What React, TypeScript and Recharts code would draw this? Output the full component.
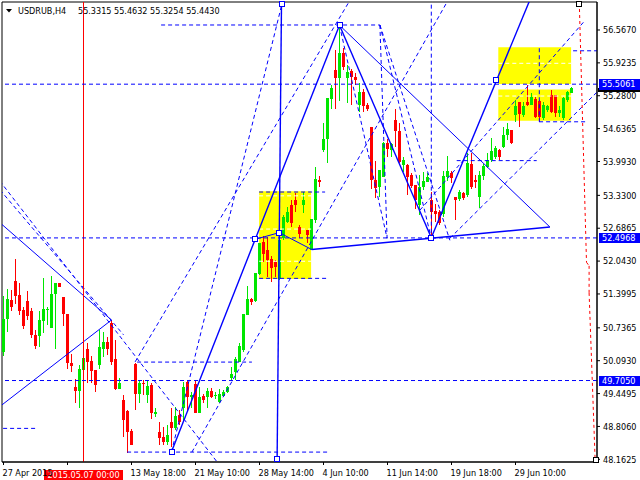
import React from 'react';
import { ComposedChart, Bar, XAxis, YAxis, ReferenceLine, ReferenceArea, ReferenceDot } from 'recharts';

const FONT = '"DejaVu Sans Condensed", "Liberation Sans", Arial, sans-serif';
const GREEN = '#00e600';
const RED = '#ff0000';
const BLUE = '#0000ff';

// ---- candle data (bar index 0..142) ----
const opens = [50.27,50.90,51.29,51.65,51.38,51.08,51.26,51.06,50.59,50.58,
50.87,51.10,50.74,51.39,51.61,51.34,51.00,50.04,49.58,49.50,
49.92,50.32,50.08,49.91,50.01,50.33,50.46,50.84,50.12,49.54,
49.33,49.11,48.72,50.03,49.45,49.66,49.42,49.61,49.05,48.70,
48.60,48.50,48.90,48.78,49.03,49.16,49.68,49.39,49.63,49.06,
49.40,49.39,49.50,49.41,49.29,49.40,49.48,49.76,49.88,50.07,
50.30,50.99,51.30,51.26,51.79,52.42,52.26,52.09,52.03,51.70,
52.49,52.81,53.14,53.24,52.71,53.14,52.66,52.26,52.85,53.63,
54.22,54.44,55.21,55.78,55.63,56.11,55.62,55.76,55.65,55.10,
55.36,55.10,54.67,53.63,53.50,53.69,54.35,54.22,54.80,54.58,
53.93,53.92,53.73,53.53,53.14,53.49,53.60,53.24,53.03,53.01,
52.96,53.68,53.77,53.29,53.25,53.37,53.34,53.95,53.63,53.30,
53.71,53.89,54.02,54.09,54.22,54.28,54.51,54.60,54.90,55.16,
54.90,55.16,55.10,55.21,55.18,54.84,55.00,55.29,55.29,54.94,
54.84,55.20,55.33];
const highs = [51.35,51.49,51.48,52.08,51.61,51.15,51.46,51.12,50.69,51.07,
51.72,51.15,51.75,51.62,51.61,51.34,51.00,50.23,49.74,50.01,
50.30,50.43,50.18,49.91,50.70,50.66,50.56,50.89,50.50,49.75,
49.42,49.12,48.76,50.05,49.72,49.72,49.72,49.65,49.16,48.90,
48.80,48.83,49.16,49.19,49.12,49.68,49.71,49.48,49.71,49.58,
49.45,49.55,49.55,49.48,49.54,49.52,49.60,49.97,50.17,50.43,
51.00,51.55,51.32,51.81,52.40,52.53,52.52,52.14,52.06,52.55,
52.94,53.11,53.24,53.37,52.75,53.40,52.66,52.86,53.88,53.71,
54.74,55.23,55.49,56.17,56.66,56.21,55.88,55.80,55.72,55.52,
55.42,55.14,54.67,54.01,53.82,54.38,54.44,54.36,55.03,54.74,
54.08,53.94,53.76,53.53,53.73,53.79,53.76,53.40,53.16,53.05,
53.80,54.10,53.80,53.30,53.43,53.40,54.15,54.15,53.72,53.80,
53.95,54.16,54.45,54.30,54.24,54.67,54.74,54.61,55.20,55.16,
55.16,55.49,55.33,55.26,55.20,55.16,55.10,55.40,55.29,55.07,
55.26,55.38,55.46];
const lows = [50.18,50.66,51.06,51.21,50.99,50.72,50.89,50.54,50.32,50.37,
50.63,50.79,50.74,50.33,51.54,50.77,49.94,49.88,49.26,49.16,
49.65,49.65,49.65,49.48,49.94,50.17,50.20,50.01,49.52,49.53,
48.60,48.28,48.44,49.12,49.26,49.43,49.26,48.96,48.99,48.44,
48.44,48.44,48.40,48.73,48.83,48.90,49.09,49.16,49.06,49.06,
49.26,49.16,49.37,49.35,49.26,49.39,49.46,49.71,49.71,50.07,
50.27,50.99,51.18,51.25,51.77,52.03,51.74,51.64,51.74,51.67,
52.45,52.78,52.71,53.01,52.49,52.98,52.39,52.26,52.78,53.50,
54.18,53.97,55.03,55.02,55.18,55.78,55.13,55.10,55.49,54.97,
54.97,54.99,53.45,53.27,53.30,53.69,54.09,54.09,54.28,53.97,
53.79,53.33,53.48,53.07,52.94,53.43,53.60,52.50,52.81,52.75,
52.90,53.62,53.58,52.85,53.22,53.24,53.30,53.45,53.48,53.08,
53.63,53.87,53.98,54.05,54.02,54.26,54.41,54.33,54.77,54.67,
54.87,55.07,55.10,54.84,54.77,54.80,54.97,54.94,54.87,54.87,
54.80,55.16,55.33];
const closes = [50.91,51.31,51.15,51.36,51.06,50.77,50.97,50.59,50.38,50.89,
51.10,51.11,51.40,51.62,51.54,51.00,50.04,49.99,49.50,49.93,
50.14,50.07,49.90,49.61,50.37,50.46,50.33,50.07,49.53,49.65,
48.93,48.70,48.44,49.45,49.65,49.64,49.60,49.06,49.08,48.58,
48.50,48.63,48.77,49.01,48.90,49.58,49.39,49.42,49.06,49.39,
49.32,49.50,49.39,49.43,49.44,49.48,49.58,49.84,50.12,50.38,
51.00,51.31,51.25,51.81,52.39,52.19,52.06,51.90,51.93,52.45,
52.91,53.01,52.78,53.14,52.58,53.24,52.55,52.86,53.65,53.60,
54.43,55.23,55.44,55.63,56.11,55.85,55.75,55.65,55.59,55.36,
55.07,55.03,53.63,53.48,53.82,54.35,54.23,54.34,54.58,53.99,
54.03,53.68,53.51,53.24,53.50,53.62,53.69,53.01,52.97,52.79,
53.71,53.80,53.66,53.24,53.40,53.28,53.96,53.50,53.59,53.73,
53.90,54.02,54.20,54.25,54.09,54.51,54.62,54.35,55.08,54.93,
55.07,55.10,55.26,54.87,54.87,55.10,55.08,54.97,54.95,55.01,
55.23,55.36,55.44];

// ---- axes ----
const xTickIndex = [0, 16, 32, 48, 64, 80, 96, 112, 128];
const xTickLabels = ['27 Apr 2015', '', '13 May 18:00', '21 May 10:00', '28 May 14:00', '4 Jun 10:00', '11 Jun 14:00', '19 Jun 18:00', '29 Jun 10:00'];
const yTicks = [48.1625, 48.806, 49.4495, 50.093, 50.7365, 51.3995, 52.043, 52.6865, 53.33, 53.993, 54.6365, 55.28, 55.9235, 56.567];
const xDomain = [-0.375, 148.375];
const yDomain = [48.11, 57.115];

// ---- annotations (bar index, price) ----
const levelPrices = [55.5061, 52.4968, 49.705];
const currentPrice = 55.443;
const cursorIndex = 20;
const cursorLabel = '2015.05.07 00:00';
const titleSymbol = 'USDRUB,H4';
const titleValues = '55.3315 55.4632 55.3254 55.4430';

const solidThick = [
  [42, 48.31, 84, 56.66],
  [84, 56.66, 106.95, 52.5],
  [106.95, 52.5, 133, 57.42],
  [77.05, 52.27, 136.6, 52.71],
  [69.5, 57.09, 68.4, 48.15],
];
const solidThin = [
  [-2, 52.87, 27, 50.89],
  [-2, 49.13, 27, 50.89],
  [84, 56.66, 136.6, 52.71],
  [62.95, 52.47, 68.95, 52.6],
  [68.95, 52.6, 77.05, 52.27],
];
const dashed = [
  [39.4, 56.665, 94.1, 56.665],
  [94.1, 56.665, 95.9, 52.49],
  [94.1, 56.665, 106.95, 52.49],
  [94.1, 56.665, 111.6, 52.45],
  [84, 56.66, 95.9, 52.49],
  [30.9, 48.304, 81.6, 48.304],
  [-0.1, 48.768, 7.9, 48.768],
  [33.4, 50.066, 62.1, 50.066],
  [63.9, 53.395, 80.4, 53.395],
  [63.9, 51.705, 81.1, 51.705],
  [113.3, 54.01, 133.3, 54.01],
  [133.9, 54.77, 145.4, 54.77],
  [142.4, 56.16, 148.4, 56.16],
  [106.95, 57.2, 106.95, 52.49],
  [133.95, 56.21, 133.95, 54.77],
  [-2, 53.72, 54, 48.05],
  [-2, 53.54, 30, 50.6],
  [32.9, 50.07, 87, 57.2],
  [47.1, 48.304, 111, 57.13],
  [42, 48.31, 70, 57.2],
  [111.6, 52.49, 149, 55.4],
  [104.1, 53.04, 145, 56.72],
];
const whiteDashed = [
  [63.9, 53.32, 76.9, 53.32],
  [63.9, 52.67, 76.9, 52.67],
  [63.9, 52.04, 76.9, 52.04],
  [123.7, 55.915, 141.9, 55.915],
  [123.7, 55.274, 141.9, 55.274],
];
const redDashed = [
  [143.95, 57.095, 145.75, 52.02],
  [145.75, 52.02, 146.4, 51.95],
  [146.4, 51.95, 146.4, 51.42],
  [146.4, 51.42, 147.9, 48.17],
];
const yellowBoxes = [
  [63.9, 76.9, 51.69, 53.41],
  [123.7, 141.9, 55.51, 56.23],
  [123.7, 141.9, 54.79, 55.40],
];
const blueSquares = [
  [42, 48.31], [62.95, 52.47], [68.95, 52.6], [84, 56.66], [106.95, 52.49], [123.1, 55.59], [69.5, 57.07], [68.4, 48.17],
];
const darkSquares = [[143.95, 57.07], [148.0, 48.15]];

const data = opens.map((o, i) => ({ i, o, h: highs[i], l: lows[i], c: closes[i] }));

const Candle = (props: any) => {
  const { x, y, width, height, payload } = props;
  if (payload == null || x == null) return null;
  const { o, h, l, c } = payload;
  const cx = x + width / 2;
  const top = Math.min(y, y + height);
  const hgt = Math.abs(height);
  const pix = (v: number) => (h === l ? top : top + ((h - v) / (h - l)) * hgt);
  const color = c >= o ? GREEN : RED;
  const bTop = pix(Math.max(o, c));
  const bBot = pix(Math.min(o, c));
  return (
    <g shapeRendering="crispEdges">
      <rect x={cx - 0.5} y={top} width={1} height={Math.max(1, hgt)} fill={color} />
      <rect x={cx - 1.5} y={bTop} width={3} height={Math.max(1, bBot - bTop)} fill={color} />
    </g>
  );
};

const XTick = (props: any) => {
  const { x, y, payload } = props;
  const idx = xTickIndex.indexOf(payload.value);
  const label = idx >= 0 ? xTickLabels[idx] : '';
  return (
    <text x={x - 1} y={y} dy={9} fontSize={9} fontFamily={FONT} fill="#000" textAnchor="start">{label}</text>
  );
};

const PriceTag = (props: any) => {
  const { viewBox, text, bg, fg, h } = props;
  if (!viewBox) return null;
  const x = viewBox.x + viewBox.width + 2;
  const y = viewBox.y;
  return (
    <g>
      <rect x={x} y={y - 5} width={42} height={h ?? 10.5} fill={bg} shapeRendering="crispEdges" />
      {text ? (
        <text x={x + 3} y={y} dy="0.35em" fontSize={9} fontFamily={FONT} fill={fg}>{text}</text>
      ) : null}
    </g>
  );
};

const CurrentTag = (props: any) => {
  const { viewBox } = props;
  if (!viewBox) return null;
  const x = viewBox.x + viewBox.width + 1;
  return <rect x={x} y={viewBox.y + 1} width={43} height={3.5} fill="#000" shapeRendering="crispEdges" />;
};

const CursorTag = (props: any) => {
  const { viewBox } = props;
  if (!viewBox) return null;
  const x = viewBox.x;
  const y = viewBox.y + viewBox.height + 7.5;
  return (
    <g>
      <rect x={x - 40} y={y} width={79} height={11} fill={RED} shapeRendering="crispEdges" />
      <text x={x} y={y + 5.5} dy="0.35em" textAnchor="middle" fontSize={9} fontFamily={FONT} fill="#fff">{cursorLabel}</text>
    </g>
  );
};

const squareShape = (color: string) => (p: any) => (
  <rect x={p.cx - 2.5} y={p.cy - 2.5} width={5} height={5} fill="#fff" stroke={color} strokeWidth={1} shapeRendering="crispEdges" />
);

export default function App() {
  const seg = (s: number[]) => [{ x: s[0], y: s[1] }, { x: s[2], y: s[3] }] as any;
  return (
    <div style={{ position: 'relative', width: 640, height: 480, background: '#fff' }}>
      <style>{'body{margin:0;background:#fff}'}</style>
      <ComposedChart width={640} height={480} data={data} margin={{ top: 2, right: 0, bottom: 0, left: 2 }}>
        <XAxis
          dataKey="i"
          type="number"
          domain={xDomain}
          allowDataOverflow
          ticks={xTickIndex}
          interval={0}
          height={18}
          tickSize={3}
          tickMargin={2}
          tick={<XTick />}
          axisLine={{ stroke: '#000' }}
          tickLine={{ stroke: '#000' }}
        />
        <YAxis
          orientation="right"
          type="number"
          domain={yDomain}
          allowDataOverflow
          ticks={yTicks}
          interval={0}
          width={43}
          tickSize={3}
          tickMargin={3}
          tickFormatter={(v: number) => v.toFixed(4)}
          tick={{ fontSize: 9, fontFamily: FONT, fill: '#000', textAnchor: 'start' }}
          axisLine={{ stroke: '#000' }}
          tickLine={{ stroke: '#000' }}
        />
        {yellowBoxes.map((b, i) => (
          <ReferenceArea key={'yb' + i} x1={b[0]} x2={b[1]} y1={b[2]} y2={b[3]} fill="#ffff00" fillOpacity={1} stroke="none" ifOverflow="visible" />
        ))}
        {whiteDashed.map((s, i) => (
          <ReferenceLine key={'wd' + i} segment={seg(s)} stroke="#ffffff" strokeDasharray="4 3" ifOverflow="hidden" />
        ))}
        <Bar dataKey={(d: any) => [d.l, d.h]} barSize={3} shape={<Candle />} isAnimationActive={false} />
        {dashed.map((s, i) => (
          <ReferenceLine key={'d' + i} segment={seg(s)} stroke={BLUE} strokeDasharray="4 3" ifOverflow="hidden" />
        ))}
        {solidThin.map((s, i) => (
          <ReferenceLine key={'st' + i} segment={seg(s)} stroke={BLUE} strokeWidth={1} ifOverflow="hidden" />
        ))}
        {solidThick.map((s, i) => (
          <ReferenceLine key={'sk' + i} segment={seg(s)} stroke={BLUE} strokeWidth={1.4} ifOverflow="hidden" />
        ))}
        {redDashed.map((s, i) => (
          <ReferenceLine key={'rd' + i} segment={seg(s)} stroke={RED} strokeDasharray="3 3" ifOverflow="hidden" />
        ))}
        <ReferenceLine x={cursorIndex} stroke={RED} strokeWidth={1} ifOverflow="visible" label={<CursorTag />} />
        <ReferenceLine y={currentPrice} stroke="none" ifOverflow="visible" label={<CurrentTag />} />
        {levelPrices.map((p, i) => (
          <ReferenceLine key={'lv' + i} y={p} stroke={BLUE} strokeDasharray="4 3" ifOverflow="visible"
            label={<PriceTag text={p.toFixed(4)} bg={BLUE} fg="#ffffff" />} />
        ))}
        {blueSquares.map((q, i) => (
          <ReferenceDot key={'bs' + i} x={q[0]} y={q[1]} r={3} ifOverflow="visible" shape={squareShape(BLUE)} />
        ))}
        {darkSquares.map((q, i) => (
          <ReferenceDot key={'ds' + i} x={q[0]} y={q[1]} r={3} ifOverflow="visible" shape={squareShape('#000')} />
        ))}
        <ReferenceArea x1={xDomain[0]} x2={xDomain[1]} y1={yDomain[0]} y2={yDomain[1]} fill="none" stroke="#000" ifOverflow="visible" />
      </ComposedChart>
      <svg width={640} height={20} style={{ position: 'absolute', left: 0, top: 0, pointerEvents: 'none' }}>
        <polygon points="6,9 12,9 9,12.5" fill="#000" />
        <text x={18} y={14} fontSize={9} fontFamily={FONT} fill="#000">{titleSymbol}</text>
        <text x={78} y={14} fontSize={9} fontFamily={FONT} fill="#000">{titleValues}</text>
      </svg>
    </div>
  );
}
